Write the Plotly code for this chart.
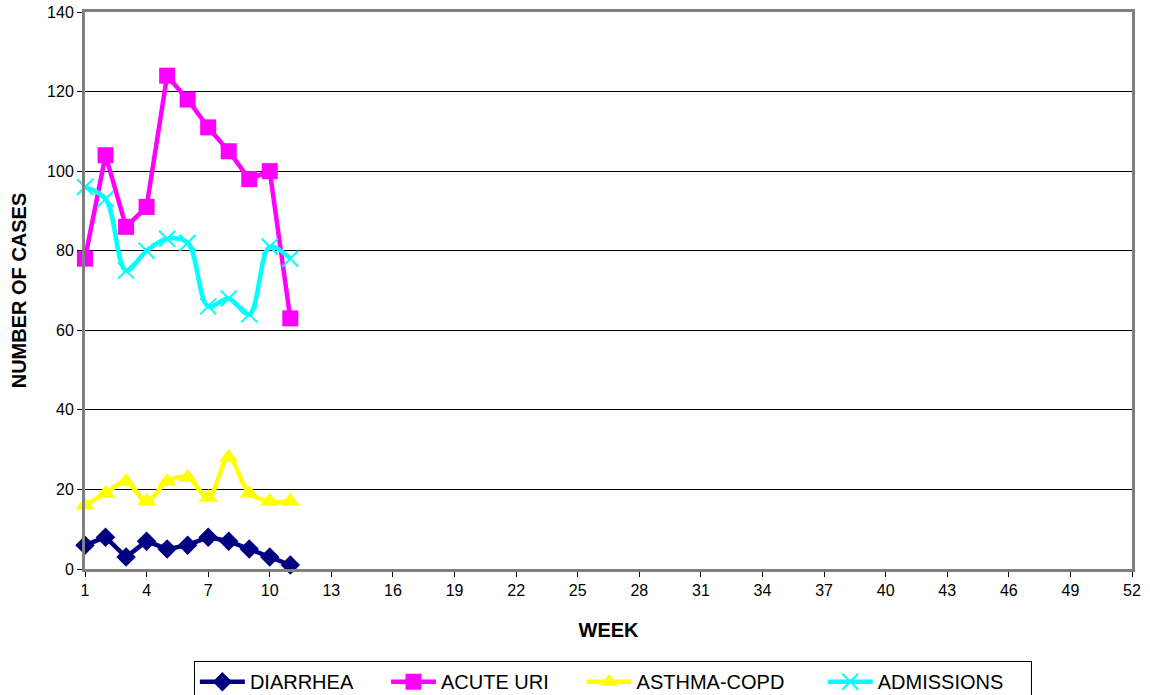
import plotly.graph_objects as go

weeks = list(range(1, 12))
diarrhea = [6, 8, 3, 7, 5, 6, 8, 7, 5, 3, 1]
acute_uri = [78, 104, 86, 91, 124, 118, 111, 105, 98, 100, 63]
asthma_copd = [16, 19, 22, 17, 22, 23, 18, 28, 19, 17, 17]
admissions = [96, 93, 75, 80, 83, 82, 66, 68, 64, 81, 78]
series_names = ["DIARRHEA", "ACUTE URI", "ASTHMA-COPD", "ADMISSIONS"]

x_ticks = list(range(1, 53, 3))
y_ticks = list(range(0, 141, 20))

FONT = "Liberation Sans, Arial, sans-serif"
NB = "\u00a0"

fig = go.Figure()
fig.add_trace(go.Scatter(
    x=weeks, y=diarrhea, name=series_names[0] + NB * 5, mode="lines+markers",
    line=dict(color="#000080", width=4.5),
    marker=dict(symbol="diamond", size=15, color="#000080"),
    cliponaxis=False))
fig.add_trace(go.Scatter(
    x=weeks, y=acute_uri, name=series_names[1] + NB * 5, mode="lines+markers",
    line=dict(color="#FF00FF", width=4.5),
    marker=dict(symbol="square", size=16, color="#FF00FF"),
    cliponaxis=False))
fig.add_trace(go.Scatter(
    x=weeks, y=asthma_copd, name=series_names[2] + NB * 6, mode="lines+markers",
    line=dict(color="#FFFF00", width=4.5, shape="spline", smoothing=1.0),
    marker=dict(symbol="triangle-up", size=17, color="#FFFF00"),
    cliponaxis=False))
fig.add_trace(go.Scatter(
    x=weeks, y=admissions, name=series_names[3] + NB * 4, mode="lines+markers",
    line=dict(color="#00FFFF", width=4.5, shape="spline", smoothing=1.0),
    marker=dict(symbol="x-thin", size=16, color="#00FFFF",
                line=dict(color="#00FFFF", width=2)),
    cliponaxis=False))

fig.update_layout(
    width=1150, height=695,
    margin=dict(l=85, r=18, t=12, b=126, autoexpand=False),
    paper_bgcolor="white", plot_bgcolor="white",
    font=dict(family=FONT, size=16, color="black"),
    showlegend=True,
    legend=dict(
        orientation="h", x=0.104, xanchor="left", y=-0.1655, yanchor="top",
        bordercolor="black", borderwidth=1,
        font=dict(family=FONT, size=20, color="black"),
        itemwidth=45,
    ),
    xaxis=dict(
        range=[1, 52], tickmode="array", tickvals=x_ticks,
        ticktext=[str(t) for t in x_ticks],
        showgrid=False, zeroline=False, automargin=False,
        ticklabeloverflow="allow",
        showline=True, linecolor="#808080", linewidth=3, mirror=True,
        ticks="outside", ticklen=5, tickcolor="black", tickwidth=1,
        tickfont=dict(size=16),
        title=dict(text="<b>WEEK</b>", font=dict(size=20), standoff=25),
    ),
    yaxis=dict(
        range=[0, 140], tickmode="array", tickvals=y_ticks,
        showgrid=True, gridcolor="black", gridwidth=1, zeroline=False,
        automargin=False, ticklabeloverflow="allow",
        showline=True, linecolor="#808080", linewidth=3, mirror=True,
        ticks="outside", ticklen=5, tickcolor="black", tickwidth=1,
        tickfont=dict(size=16),
        title=dict(text="<b>NUMBER OF CASES</b>", font=dict(size=20), standoff=16),
    ),
)

fig.write_html("out.html", config={"displayModeBar": False},
               post_script="document.body.style.margin='0';")
